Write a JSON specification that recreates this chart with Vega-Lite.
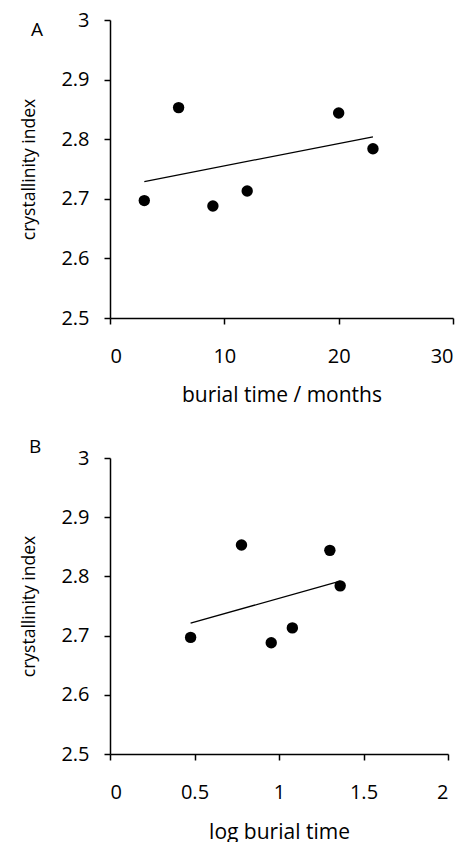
{
  "$schema": "https://vega.github.io/schema/vega-lite/v6.json",
  "background": "white",
  "padding": {"left": 20, "right": 5, "top": 10, "bottom": 0},
  "config": {
    "font": "Open Sans",
    "view": {"stroke": null},
    "title": {"font": "Open Sans", "fontSize": 19, "fontWeight": "normal", "color": "black"},
    "axis": {
      "grid": false,
      "domainColor": "black",
      "tickColor": "black",
      "labelColor": "black",
      "titleColor": "black",
      "labelFont": "Open Sans",
      "titleFont": "Open Sans",
      "labelFontSize": 20,
      "titleFontSize": 18,
      "titleFontWeight": "normal",
      "tickSize": 6,
      "domainWidth": 1.5,
      "tickWidth": 1.5
    },
    "axisX": {"titleFontSize": 21, "labelPadding": 22, "titlePadding": 18},
    "axisY": {"titleFontSize": 17.5, "labelPadding": 15, "titlePadding": 22}
  },
  "datasets": {
    "points": [
      {"months": 3, "logt": 0.477, "ci": 2.697},
      {"months": 6, "logt": 0.778, "ci": 2.853},
      {"months": 9, "logt": 0.954, "ci": 2.688},
      {"months": 12, "logt": 1.079, "ci": 2.713},
      {"months": 20, "logt": 1.301, "ci": 2.844},
      {"months": 23, "logt": 1.362, "ci": 2.784}
    ],
    "fitA": [
      {"months": 3, "ci": 2.729},
      {"months": 23, "ci": 2.804}
    ],
    "fitB": [
      {"logt": 0.477, "ci": 2.721},
      {"logt": 1.362, "ci": 2.792}
    ]
  },
  "spacing": 33,
  "vconcat": [
    {
      "width": 343,
      "height": 298,
      "title": {"text": "A", "anchor": "start", "frame": "group", "dx": -79, "dy": 34},
      "layer": [
        {
          "data": {"name": "fitA"},
          "mark": {"type": "line", "color": "black", "strokeWidth": 1.3},
          "encoding": {
            "x": {"field": "months", "type": "quantitative"},
            "y": {"field": "ci", "type": "quantitative"}
          }
        },
        {
          "data": {"name": "points"},
          "mark": {"type": "point", "filled": true, "color": "black", "opacity": 1, "size": 130},
          "encoding": {
            "x": {
              "field": "months", "type": "quantitative",
              "scale": {"domain": [0, 30], "nice": false},
              "axis": {"values": [0, 10, 20, 30], "title": "burial time / months", "format": "~g"}
            },
            "y": {
              "field": "ci", "type": "quantitative",
              "scale": {"domain": [2.5, 3], "nice": false, "zero": false},
              "axis": {"values": [2.5, 2.6, 2.7, 2.8, 2.9, 3], "title": "crystallinity index", "format": "~g"}
            }
          }
        }
      ]
    },
    {
      "width": 338,
      "height": 296,
      "title": {"text": "B", "anchor": "start", "frame": "group", "dx": -81, "dy": 13},
      "layer": [
        {
          "data": {"name": "fitB"},
          "mark": {"type": "line", "color": "black", "strokeWidth": 1.3},
          "encoding": {
            "x": {"field": "logt", "type": "quantitative"},
            "y": {"field": "ci", "type": "quantitative"}
          }
        },
        {
          "data": {"name": "points"},
          "mark": {"type": "point", "filled": true, "color": "black", "opacity": 1, "size": 130},
          "encoding": {
            "x": {
              "field": "logt", "type": "quantitative",
              "scale": {"domain": [0, 2], "nice": false},
              "axis": {"values": [0, 0.5, 1, 1.5, 2], "title": "log burial time", "format": "~g", "titlePadding": 19}
            },
            "y": {
              "field": "ci", "type": "quantitative",
              "scale": {"domain": [2.5, 3], "nice": false, "zero": false},
              "axis": {"values": [2.5, 2.6, 2.7, 2.8, 2.9, 3], "title": "crystallinity index", "format": "~g"}
            }
          }
        }
      ]
    }
  ]
}
